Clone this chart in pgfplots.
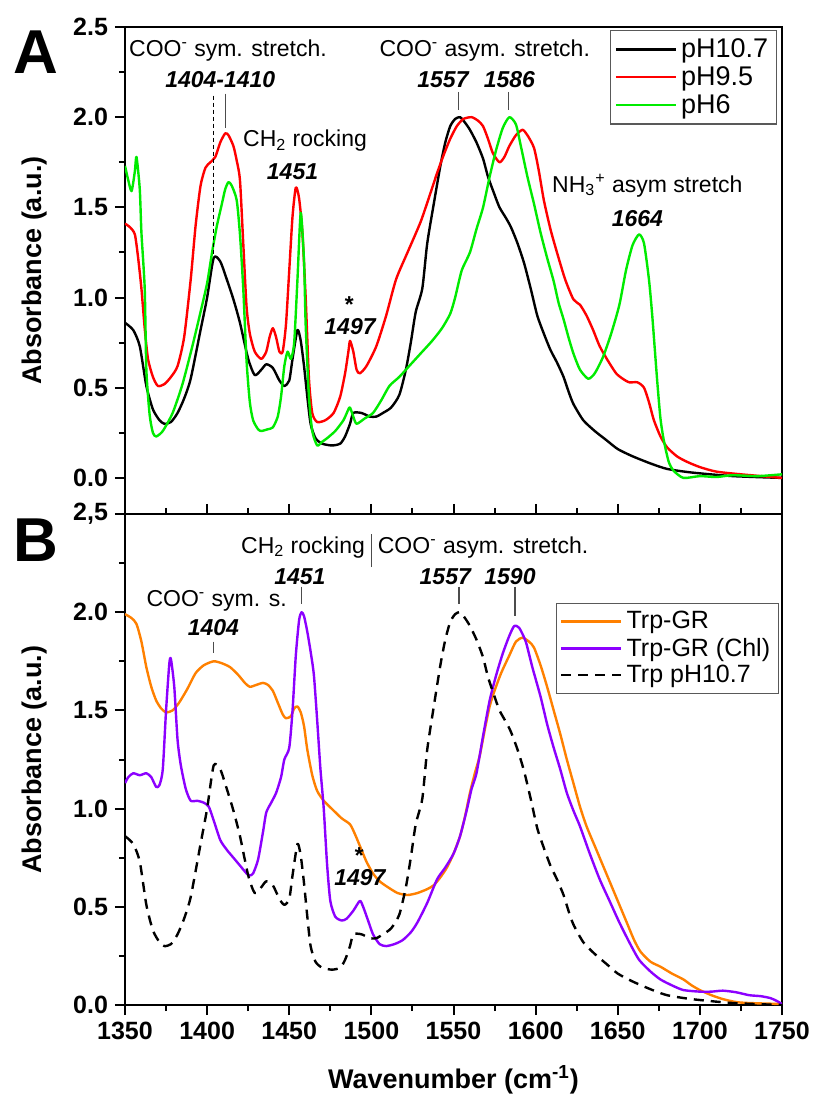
\documentclass[border=0pt]{standalone}
\usepackage{pgfplots}
\pgfplotsset{compat=1.18}
\usepackage{pgfplotstable}
\usepackage{fontspec}
\setmainfont{Liberation Sans}

\definecolor{cred}{RGB}{255,0,0}
\definecolor{cgreen}{RGB}{0,235,0}
\definecolor{corange}{RGB}{255,128,0}
\definecolor{cpurple}{RGB}{140,0,255}

\newcommand{\ann}{\fontsize{11.5}{13}\selectfont}
\newcommand{\nb}{\fontsize{11.5}{13}\selectfont\bfseries\itshape}

% Trp pH10.7 (used in both panels)
\pgfplotstableread{
x y
1350 0.86
1355 0.82
1359 0.73
1363 0.51
1367 0.38
1371 0.32
1374 0.30
1378 0.31
1382 0.36
1386 0.44
1390 0.55
1396 0.82
1400 1.00
1404 1.22
1408 1.20
1412 1.10
1416 0.99
1420 0.86
1425 0.66
1429 0.57
1433 0.60
1436 0.63
1440 0.61
1444 0.54
1447 0.51
1450 0.54
1452 0.66
1455 0.82
1457 0.76
1459 0.62
1461 0.45
1463 0.30
1466 0.22
1470 0.19
1476 0.18
1481 0.19
1484 0.23
1487 0.30
1489 0.36
1494 0.36
1499 0.34
1503 0.34
1507 0.36
1512 0.39
1517 0.46
1521 0.60
1524 0.75
1527 0.92
1531 1.05
1534 1.30
1538 1.52
1542 1.73
1545 1.86
1548 1.95
1551 1.99
1554 2.00
1557 1.97
1560 1.93
1564 1.86
1568 1.77
1571 1.67
1575 1.57
1578 1.50
1582 1.44
1585 1.39
1589 1.30
1593 1.19
1597 1.05
1601 0.90
1605 0.80
1609 0.71
1613 0.64
1617 0.56
1620 0.48
1623 0.41
1629 0.32
1636 0.26
1643 0.21
1650 0.16
1659 0.12
1670 0.08
1680 0.05
1695 0.03
1720 0.01
1750 0.00
}\blackdata

% pH9.5
\pgfplotstableread{
x y
1350 1.41
1353 1.39
1356 1.35
1358 1.22
1360 1.05
1362 0.83
1364 0.66
1367 0.56
1370 0.51
1374 0.52
1378 0.56
1382 0.62
1386 0.78
1390 1.10
1393 1.40
1396 1.62
1399 1.72
1402 1.75
1405 1.78
1408 1.86
1411 1.91
1413 1.90
1416 1.84
1418 1.76
1420 1.65
1422 1.30
1424 0.95
1426 0.80
1429 0.70
1433 0.66
1436 0.70
1438 0.78
1440 0.83
1442 0.78
1444 0.70
1446 0.70
1448 0.85
1450 1.15
1452 1.45
1454 1.61
1456 1.55
1458 1.36
1460 1.00
1462 0.55
1464 0.36
1467 0.31
1472 0.32
1477 0.36
1481 0.45
1484 0.58
1486 0.70
1487 0.76
1489 0.70
1491 0.60
1493 0.58
1497 0.62
1503 0.73
1509 0.90
1515 1.10
1522 1.25
1530 1.42
1536 1.58
1540 1.69
1544 1.79
1548 1.88
1552 1.95
1556 1.99
1561 2.00
1565 1.98
1568 1.95
1571 1.88
1574 1.80
1578 1.75
1581 1.78
1584 1.84
1588 1.90
1592 1.93
1595 1.90
1599 1.83
1602 1.70
1605 1.54
1609 1.38
1613 1.25
1618 1.10
1623 0.99
1627 0.96
1631 0.90
1635 0.82
1639 0.73
1644 0.65
1649 0.58
1653 0.55
1657 0.53
1662 0.53
1666 0.50
1669 0.42
1672 0.32
1676 0.23
1680 0.17
1686 0.12
1692 0.09
1700 0.06
1710 0.035
1725 0.02
1750 0.00
}\reddata

% pH6
\pgfplotstableread{
x y
1350 1.73
1352 1.65
1354 1.59
1356 1.70
1357 1.78
1359 1.60
1360 1.36
1362 1.05
1363 0.60
1365 0.35
1367 0.25
1369 0.23
1373 0.26
1379 0.36
1385 0.52
1391 0.73
1396 0.92
1400 1.08
1403 1.25
1406 1.40
1409 1.52
1411 1.60
1413 1.64
1415 1.62
1418 1.54
1420 1.35
1422 1.05
1424 0.65
1426 0.42
1428 0.32
1431 0.27
1433 0.26
1437 0.27
1440 0.28
1443 0.34
1445 0.45
1447 0.62
1449 0.70
1451 0.66
1453 0.75
1455 1.10
1457 1.47
1459 1.20
1460 0.85
1462 0.45
1464 0.26
1467 0.18
1470 0.20
1473 0.22
1478 0.26
1483 0.32
1486 0.38
1487 0.39
1489 0.34
1491 0.30
1496 0.33
1501 0.36
1506 0.43
1511 0.51
1517 0.56
1523 0.62
1530 0.69
1537 0.76
1543 0.83
1548 0.91
1551 1.00
1555 1.15
1560 1.25
1564 1.38
1568 1.50
1572 1.67
1576 1.82
1580 1.94
1584 2.00
1588 1.96
1591 1.84
1595 1.67
1599 1.52
1603 1.36
1607 1.22
1611 1.09
1614 0.97
1617 0.88
1620 0.78
1623 0.69
1627 0.60
1632 0.55
1636 0.58
1641 0.67
1646 0.80
1651 0.96
1655 1.15
1659 1.29
1663 1.35
1666 1.30
1669 1.10
1671 0.90
1674 0.54
1676 0.33
1678 0.21
1681 0.09
1684 0.04
1690 0.00
1700 0.01
1710 0.005
1720 0.015
1735 0.01
1750 0.02
}\greendata

% Trp-GR
\pgfplotstableread{
x y
1350 1.99
1354 1.97
1357 1.94
1360 1.85
1363 1.72
1366 1.62
1369 1.55
1372 1.51
1375 1.49
1379 1.50
1383 1.54
1388 1.61
1393 1.69
1398 1.73
1404 1.75
1409 1.74
1414 1.72
1419 1.68
1423 1.64
1426 1.62
1430 1.63
1434 1.64
1437 1.63
1440 1.60
1443 1.54
1446 1.48
1448 1.46
1451 1.47
1453 1.51
1455 1.52
1457 1.49
1459 1.42
1461 1.30
1464 1.17
1467 1.09
1471 1.04
1477 0.99
1482 0.95
1487 0.92
1490 0.87
1493 0.81
1497 0.73
1501 0.67
1505 0.63
1510 0.60
1516 0.57
1522 0.56
1528 0.57
1534 0.59
1538 0.61
1542 0.65
1546 0.70
1550 0.77
1554 0.86
1557 0.96
1560 1.08
1563 1.18
1566 1.27
1569 1.40
1572 1.52
1575 1.60
1579 1.69
1584 1.78
1588 1.85
1592 1.87
1596 1.85
1599 1.82
1603 1.73
1607 1.62
1611 1.50
1615 1.38
1619 1.25
1623 1.13
1627 1.01
1631 0.91
1637 0.79
1643 0.67
1649 0.55
1655 0.43
1660 0.33
1664 0.27
1670 0.22
1676 0.195
1683 0.16
1690 0.13
1695 0.10
1700 0.076
1707 0.05
1714 0.03
1722 0.015
1730 0.01
1750 0.005
}\orangedata

% Trp-GR (Chl)
\pgfplotstableread{
x y
1350 1.13
1352 1.16
1355 1.18
1359 1.17
1363 1.18
1366 1.16
1369 1.11
1371 1.12
1373 1.20
1375 1.50
1377 1.74
1378 1.76
1380 1.62
1382 1.35
1384 1.22
1387 1.10
1390 1.04
1394 1.04
1398 1.03
1401 1.01
1404 0.94
1408 0.84
1412 0.79
1416 0.75
1420 0.71
1424 0.67
1426 0.66
1428 0.67
1431 0.74
1434 0.88
1436 0.98
1439 1.03
1442 1.08
1445 1.16
1447 1.25
1450 1.31
1452 1.50
1454 1.78
1456 1.96
1457.5 2.00
1459 1.98
1461 1.90
1463 1.80
1465 1.68
1467 1.45
1469 1.20
1471 1.00
1473 0.72
1475 0.53
1478 0.45
1482 0.43
1485 0.44
1489 0.48
1493 0.53
1495 0.50
1498 0.43
1501 0.36
1505 0.31
1509 0.30
1514 0.31
1519 0.33
1524 0.37
1528 0.42
1534 0.52
1540 0.64
1545 0.70
1550 0.77
1554 0.86
1558 0.99
1561 1.10
1564 1.18
1568 1.37
1572 1.55
1576 1.68
1580 1.79
1584 1.88
1587 1.93
1590 1.92
1594 1.85
1598 1.72
1603 1.57
1607 1.43
1611 1.31
1615 1.20
1619 1.08
1623 0.99
1627 0.91
1633 0.77
1639 0.64
1645 0.53
1651 0.42
1657 0.32
1663 0.23
1670 0.17
1676 0.13
1683 0.10
1690 0.076
1700 0.068
1707 0.068
1714 0.073
1722 0.065
1730 0.05
1737 0.045
1743 0.035
1747 0.02
1750 0.005
}\purpledata

\pgfplotsset{
  spec/.style={
    scale only axis, width=328.5pt,
    xmin=1350, xmax=1750,
    tick align=outside,
    major tick length=5pt, minor tick length=3pt,
    every tick/.style={black, line width=1pt},
    axis line style={line width=1.2pt},
    ytick pos=left,
    minor y tick num=1,
    tick label style={font=\fontsize{12.5}{14}\selectfont\bfseries},
    label style={font=\fontsize{13.5}{15}\selectfont\bfseries},
    /pgf/number format/assume math mode=true,
    /pgf/number format/1000 sep={},
    ylabel={Absorbance (a.u.)},
    ylabel shift=6pt,
    legend cell align=left,
    legend image code/.code={\draw[##1] (0pt,0pt) -- (30pt,0pt);},
    every axis plot/.append style={line width=1.2pt, line join=round, smooth, tension=0.4},
  }
}

\begin{document}
\begin{tikzpicture}
\useasboundingbox (-62.5pt,13.5pt) rectangle (344pt,-534pt);

\begin{axis}[spec, name=A, at={(0,0)}, anchor=north west,
  height=243.5pt,
  ymin=-0.2, ymax=2.5,
  ytick={0,0.5,...,2.5},
  yticklabel style={/pgf/number format/.cd, fixed, fixed zerofill, precision=1},
  xtick=\empty,
  legend style={at={(rel axis cs:0.992,0.994)}, anchor=north east,
    draw=gray!70!black, line width=0.6pt,
    font=\fontsize{13.5}{15}\selectfont, row sep=-1pt, inner sep=2pt},
]
\addplot[black] table {\blackdata};
\addplot[cred] table {\reddata};
\addplot[cgreen] table {\greendata};
\legend{pH10.7, pH9.5, pH6}

\node[font=\ann] at (axis cs:1412.7,2.37) {COO\textsuperscript{-} sym. stretch.};
\node[font=\nb] at (axis cs:1408,2.21) {1404-1410};
\draw[black, line width=0.5pt, dash pattern=on 2pt off 1.5pt] (axis cs:1403.8,2.12) -- (axis cs:1403.8,1.23);
\draw[black!70, line width=0.6pt] (axis cs:1411,2.13) -- (axis cs:1411,1.94);
\node[font=\ann] at (axis cs:1459.6,1.87) {CH\textsubscript{2} rocking};
\node[font=\nb] at (axis cs:1452,1.70) {1451};
\node[font=\nb] at (axis cs:1486,0.96) {*};
\node[font=\nb] at (axis cs:1487,0.84) {1497};
\node[font=\ann] at (axis cs:1569,2.37) {COO\textsuperscript{-} asym. stretch.};
\node[font=\nb] at (axis cs:1543.6,2.21) {1557};
\node[font=\nb] at (axis cs:1584,2.21) {1586};
\draw[black!70, line width=0.6pt] (axis cs:1553,2.14) -- (axis cs:1553,2.04);
\draw[black!70, line width=0.6pt] (axis cs:1583.6,2.14) -- (axis cs:1583.6,2.04);
\node[font=\ann] at (axis cs:1668,1.62) {NH\textsubscript{3}\textsuperscript{+} asym stretch};
\node[font=\nb] at (axis cs:1662,1.44) {1664};
\end{axis}

\begin{axis}[spec, name=B, at={(A.south west)}, anchor=north west,
  height=245.5pt,
  ymin=0, ymax=2.5,
  ytick={0,0.5,...,2.5},
  yticklabels={0.0,0.5,1.0,1.5,2.0,{2,5}},
  xtick={1350,1400,...,1750}, minor x tick num=1,
  xtick pos=both,
  xlabel={Wavenumber (cm\textsuperscript{-1})},
  xlabel shift=6pt,
  legend style={at={(rel axis cs:0.995,0.819)}, anchor=north east,
    draw=gray!70!black, line width=0.6pt,
    font=\fontsize{12.5}{14}\selectfont, row sep=-1pt, inner sep=2pt},
]
\addplot[corange] table {\orangedata};
\addplot[cpurple] table {\purpledata};
\addplot[black, dash pattern=on 5pt off 3.5pt] table {\blackdata};
\legend{Trp-GR, Trp-GR (Chl), Trp pH10.7}

\node[font=\ann, anchor=east, inner sep=1pt] at (axis cs:1497.5,2.33) {CH\textsubscript{2} rocking};
\draw[black!70, line width=0.6pt] (axis cs:1500,2.23) -- (axis cs:1500,2.40);
\node[font=\ann, anchor=west, inner sep=1pt] at (axis cs:1502.5,2.33) {COO\textsuperscript{-} asym. stretch.};
\node[font=\nb] at (axis cs:1456.5,2.18) {1451};
\draw[black!70, line width=0.6pt] (axis cs:1457.5,2.13) -- (axis cs:1457.5,2.04);
\node[font=\ann] at (axis cs:1405.8,2.06) {COO\textsuperscript{-} sym. s.};
\node[font=\nb] at (axis cs:1403.8,1.92) {1404};
\draw[black!70, line width=0.6pt] (axis cs:1403.8,1.85) -- (axis cs:1403.8,1.79);
\node[font=\nb] at (axis cs:1545,2.18) {1557};
\draw[black!70, line width=0.6pt] (axis cs:1553.3,2.13) -- (axis cs:1553.3,2.04);
\node[font=\nb] at (axis cs:1584.4,2.18) {1590};
\draw[black!70, line width=0.6pt] (axis cs:1587.4,2.13) -- (axis cs:1587.4,1.98);
\node[font=\nb] at (axis cs:1492,0.76) {*};
\node[font=\nb] at (axis cs:1493,0.65) {1497};
\end{axis}

\node[font=\fontsize{31}{33}\selectfont\bfseries] at ([shift={(-44.5pt,-12.5pt)}]A.north west) {A};
\node[font=\fontsize{31}{33}\selectfont\bfseries] at ([shift={(-44.5pt,-13pt)}]B.north west) {B};
\end{tikzpicture}
\end{document}
